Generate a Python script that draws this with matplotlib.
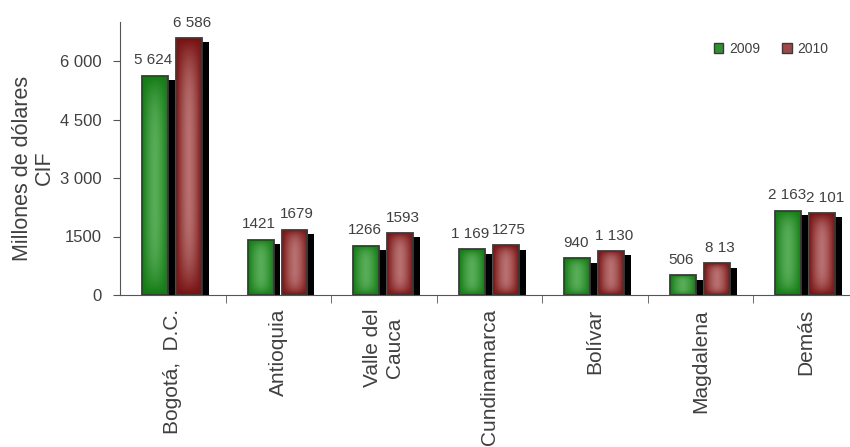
import numpy as np
import matplotlib
matplotlib.use("Agg")
import matplotlib.pyplot as plt
from matplotlib.patches import Rectangle
from matplotlib.colors import to_rgb

departamentos = ["Bogotá,  D.C.", "Antioquia", "Valle del\nCauca", "Cundinamarca",
                 "Bolívar", "Magdalena", "Demás"]
valores_2009 = [5624, 1421, 1266, 1169, 940, 506, 2163]
valores_2010 = [6586, 1679, 1593, 1275, 1130, 813, 2101]
etiquetas_2009 = ["5 624", "1421", "1266", "1 169", "940", "506", "2 163"]
etiquetas_2010 = ["6 586", "1679", "1593", "1275", "1 130", "8 13", "2 101"]
yticks = [0, 1500, 3000, 4500, 6000]
ytick_labels = ["0", "1500", "3 000", "4 500", "6 000"]

TXT = "#404040"
EDGE = "#3a3a3a"
plt.rcParams["font.family"] = ["Liberation Sans", "DejaVu Sans"]


def gradient_bar(ax, x0, w, h, dark, light):
    # shadow first, then the bar with a pillow-like gradient clipped to it
    ax.add_patch(Rectangle((x0 + 0.066, -110), w, h, facecolor="black",
                           edgecolor="none", zorder=1))
    u = np.linspace(-1, 1, 60)
    v = np.linspace(-1, 1, 120)
    U, V = np.meshgrid(u, v)
    f = (1 - np.abs(U) ** 1.6) * (1 - np.abs(V) ** 4)
    d = np.array(to_rgb(dark))
    l = np.array(to_rgb(light))
    img = d + (l - d) * f[..., None]
    rect = Rectangle((x0, 0), w, h, facecolor="none", edgecolor=EDGE,
                     linewidth=1.3, zorder=3)
    ax.add_patch(rect)
    im = ax.imshow(img, extent=[x0, x0 + w, 0, h], aspect="auto",
                   origin="lower", zorder=2, interpolation="bilinear")
    im.set_clip_path(rect)


fig = plt.figure(figsize=(8.5, 4.47), dpi=100)
ax = fig.add_axes([120 / 850, 1 - 295 / 447, 739 / 850, (295 - 22) / 447])

w = 0.246
x = np.arange(len(departamentos))
for i in x:
    gradient_bar(ax, i - 0.292, w, valores_2009[i], "#137a13", "#58ad58")
    gradient_bar(ax, i + 0.03, w, valores_2010[i], "#781212", "#b87070")
    ax.annotate(etiquetas_2009[i], (i - 0.292 + w / 2, valores_2009[i]),
                xytext=(-1, 6), textcoords="offset points", ha="center",
                va="bottom", fontsize=11, color=TXT)
    ax.annotate(etiquetas_2010[i], (i + 0.03 + w / 2, valores_2010[i]),
                xytext=(2, 6), textcoords="offset points", ha="center",
                va="bottom", fontsize=11, color=TXT)

ax.set_xlim(-0.5, 6.5)
ax.set_ylim(0, 7000)
for s in ["top", "right"]:
    ax.spines[s].set_visible(False)
for s in ["left", "bottom"]:
    ax.spines[s].set_color("#555555")

ax.set_yticks(yticks)
ax.set_yticklabels(ytick_labels)
ax.tick_params(axis="y", length=5, color="#555555", labelsize=12,
               labelcolor=TXT, pad=8)
ax.set_xticks(x)
ax.set_xticklabels(departamentos, rotation=90, ha="center", va="top",
                   multialignment="center")
ax.set_xticks(np.arange(0.5, 6.5, 1), minor=True)
ax.tick_params(axis="x", which="major", length=0, labelsize=15,
               labelcolor=TXT, pad=10)
ax.tick_params(axis="x", which="minor", length=6, color="#555555")

fig.text(33 / 850, 1 - 168 / 447, "Millones de dólares\nCIF", rotation=90,
         ha="center", va="center", multialignment="center", fontsize=15.5,
         color=TXT, linespacing=1.05)

h1 = Rectangle((0, 0), 1, 1, facecolor="#2e922e", edgecolor=EDGE, linewidth=1)
h2 = Rectangle((0, 0), 1, 1, facecolor="#a04848", edgecolor=EDGE, linewidth=1)
ax.legend([h1, h2], ["2009", "2010"], loc="center right",
          bbox_to_anchor=(841 / 850, 1 - 49 / 447),
          bbox_transform=fig.transFigure, ncol=2, frameon=False,
          handlelength=0.7, handleheight=0.7, handletextpad=0.4,
          columnspacing=1.6, prop={"size": 10}, labelcolor=TXT)

fig.savefig("out.png", dpi=100)
